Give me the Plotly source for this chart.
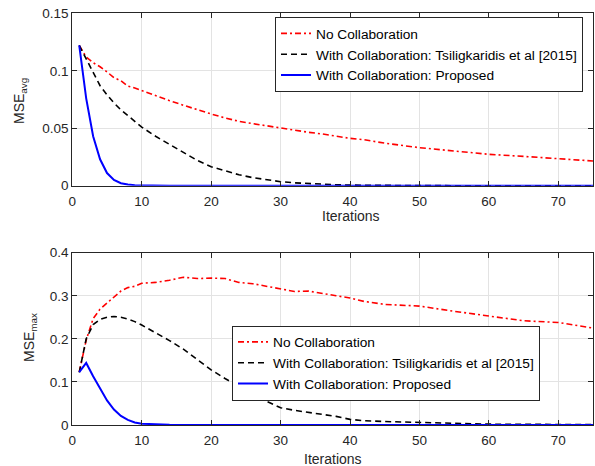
import plotly.graph_objects as go

iters = [1, 2, 3, 4, 5, 6, 7, 8, 9, 10, 12, 14, 16, 18, 20, 22, 24, 26, 28, 30,
         32, 34, 36, 38, 40, 42, 45, 50, 55, 60, 65, 70, 75]

avg_no_collab = [0.122, 0.112, 0.107, 0.1035, 0.099, 0.094, 0.0913, 0.0867, 0.085, 0.0827,
                 0.078, 0.074, 0.070, 0.066, 0.0624, 0.059, 0.056, 0.054, 0.052, 0.050,
                 0.048, 0.0465, 0.045, 0.043, 0.0412, 0.040, 0.037, 0.0331, 0.030, 0.0273,
                 0.0255, 0.0238, 0.0215]
avg_tsili = [0.122, 0.110, 0.098, 0.087, 0.079, 0.072, 0.066, 0.061, 0.056, 0.051,
             0.043, 0.036, 0.029, 0.022, 0.0165, 0.013, 0.0095, 0.007, 0.005, 0.0035,
             0.0025, 0.0018, 0.0012, 0.0008, 0.0005, 0.0003, 0.0002, 0.0001, 0.0, 0.0,
             0.0, 0.0, 0.0]
avg_proposed = [0.122, 0.076, 0.043, 0.023, 0.011, 0.005, 0.0022, 0.001, 0.0005, 0.0003,
                0.0001, 0.0, 0.0, 0.0, 0.0, 0.0, 0.0, 0.0, 0.0, 0.0,
                0.0, 0.0, 0.0, 0.0, 0.0, 0.0, 0.0, 0.0, 0.0, 0.0,
                0.0, 0.0, 0.0]

max_no_collab = [0.123, 0.197, 0.247, 0.269, 0.283, 0.298, 0.311, 0.319, 0.322, 0.329,
                 0.331, 0.336, 0.343, 0.340, 0.341, 0.340, 0.331, 0.328, 0.322, 0.316,
                 0.310, 0.311, 0.305, 0.300, 0.295, 0.287, 0.280, 0.276, 0.264, 0.253,
                 0.242, 0.238, 0.225]
max_tsili = [0.122, 0.200, 0.233, 0.245, 0.250, 0.252, 0.250, 0.246, 0.240, 0.232,
             0.214, 0.196, 0.176, 0.152, 0.128, 0.108, 0.088, 0.070, 0.055, 0.040,
             0.034, 0.029, 0.024, 0.020, 0.013, 0.010, 0.008, 0.006, 0.003, 0.002,
             0.0015, 0.001, 0.001]
max_proposed = [0.123, 0.144, 0.113, 0.086, 0.057, 0.036, 0.021, 0.012, 0.006, 0.003,
                0.001, 0.0005, 0.0, 0.0, 0.0, 0.0, 0.0, 0.0, 0.0, 0.0,
                0.0, 0.0, 0.0, 0.0, 0.0, 0.0, 0.0, 0.0, 0.0, 0.0,
                0.0, 0.0, 0.0]

names = ["No Collaboration",
         "With Collaboration: Tsiligkaridis et al [2015]",
         "With Collaboration: Proposed"]

W, H = 595, 466
FONT = "Liberation Sans, Arial, Helvetica, sans-serif"
AX = "#262626"

fig = go.Figure()

styles = [dict(color="#ff0000", width=1.6, dash="6px,3px,2px,3px"),
          dict(color="#000000", width=1.6, dash="6px,4px"),
          dict(color="#0000ff", width=2.0)]

for series, st, nm in zip([avg_no_collab, avg_tsili, avg_proposed], styles, names):
    fig.add_trace(go.Scatter(x=iters, y=series, mode="lines", line=st, name=nm,
                             xaxis="x", yaxis="y", legend="legend"))
for series, st, nm in zip([max_no_collab, max_tsili, max_proposed], styles, names):
    fig.add_trace(go.Scatter(x=iters, y=series, mode="lines", line=st, name=nm,
                             xaxis="x2", yaxis="y2", legend="legend2"))

def px_x(p):
    return p / W

def px_y(p):
    return 1 - p / H

xdom = [px_x(72.3), px_x(593)]
axcommon = dict(showline=True, linecolor=AX, linewidth=1, mirror="allticks",
                ticks="inside", ticklen=5, tickcolor=AX, showgrid=True,
                gridcolor="#e3e3e3", gridwidth=1, zeroline=False, automargin=False,
                tickfont=dict(family=FONT, size=13.5, color=AX))

legfont = dict(family=FONT, size=13.7, color="#000000")

fig.update_layout(
    width=W, height=H,
    margin=dict(l=0, r=0, t=0, b=0, autoexpand=False),
    paper_bgcolor="white", plot_bgcolor="white",
    font=dict(family=FONT, size=14, color=AX),
    xaxis=dict(domain=xdom, anchor="y", range=[0, 75], tick0=0, dtick=10,
               ticklabelstandoff=3, **axcommon),
    yaxis=dict(domain=[px_y(185.7), px_y(13.3)], anchor="x", range=[0, 0.15],
               tick0=0, dtick=0.05, **axcommon),
    xaxis2=dict(domain=xdom, anchor="y2", range=[0, 75], tick0=0, dtick=10,
                ticklabelstandoff=3, **axcommon),
    yaxis2=dict(domain=[px_y(425), px_y(252.7)], anchor="x2", range=[0, 0.4],
                tick0=0, dtick=0.1, **axcommon),
    legend=dict(x=px_x(275), y=px_y(54.5), xanchor="left", yanchor="middle",
                bgcolor="white", bordercolor=AX, borderwidth=1, font=legfont,
                tracegroupgap=0, itemwidth=30),
    legend2=dict(x=px_x(232), y=px_y(363), xanchor="left", yanchor="middle",
                 bgcolor="white", bordercolor=AX, borderwidth=1, font=legfont,
                 tracegroupgap=0, itemwidth=30),
    showlegend=True,
)

annots = [
    dict(text="Iterations", x=px_x(351), y=px_y(216)),
    dict(text="Iterations", x=px_x(332.7), y=px_y(459)),
    dict(text="MSE<sub>avg</sub>", x=px_x(20), y=px_y(101), textangle=-90),
    dict(text="MSE<sub>max</sub>", x=px_x(30), y=px_y(338), textangle=-90),
]
for a in annots:
    fig.add_annotation(xref="paper", yref="paper", xanchor="center", yanchor="middle",
                       showarrow=False, font=dict(family=FONT, size=14, color=AX), **a)

fig.write_html("out.html", config={"displayModeBar": False},
               post_script="document.body.style.margin='0';document.body.style.overflow='hidden';")
